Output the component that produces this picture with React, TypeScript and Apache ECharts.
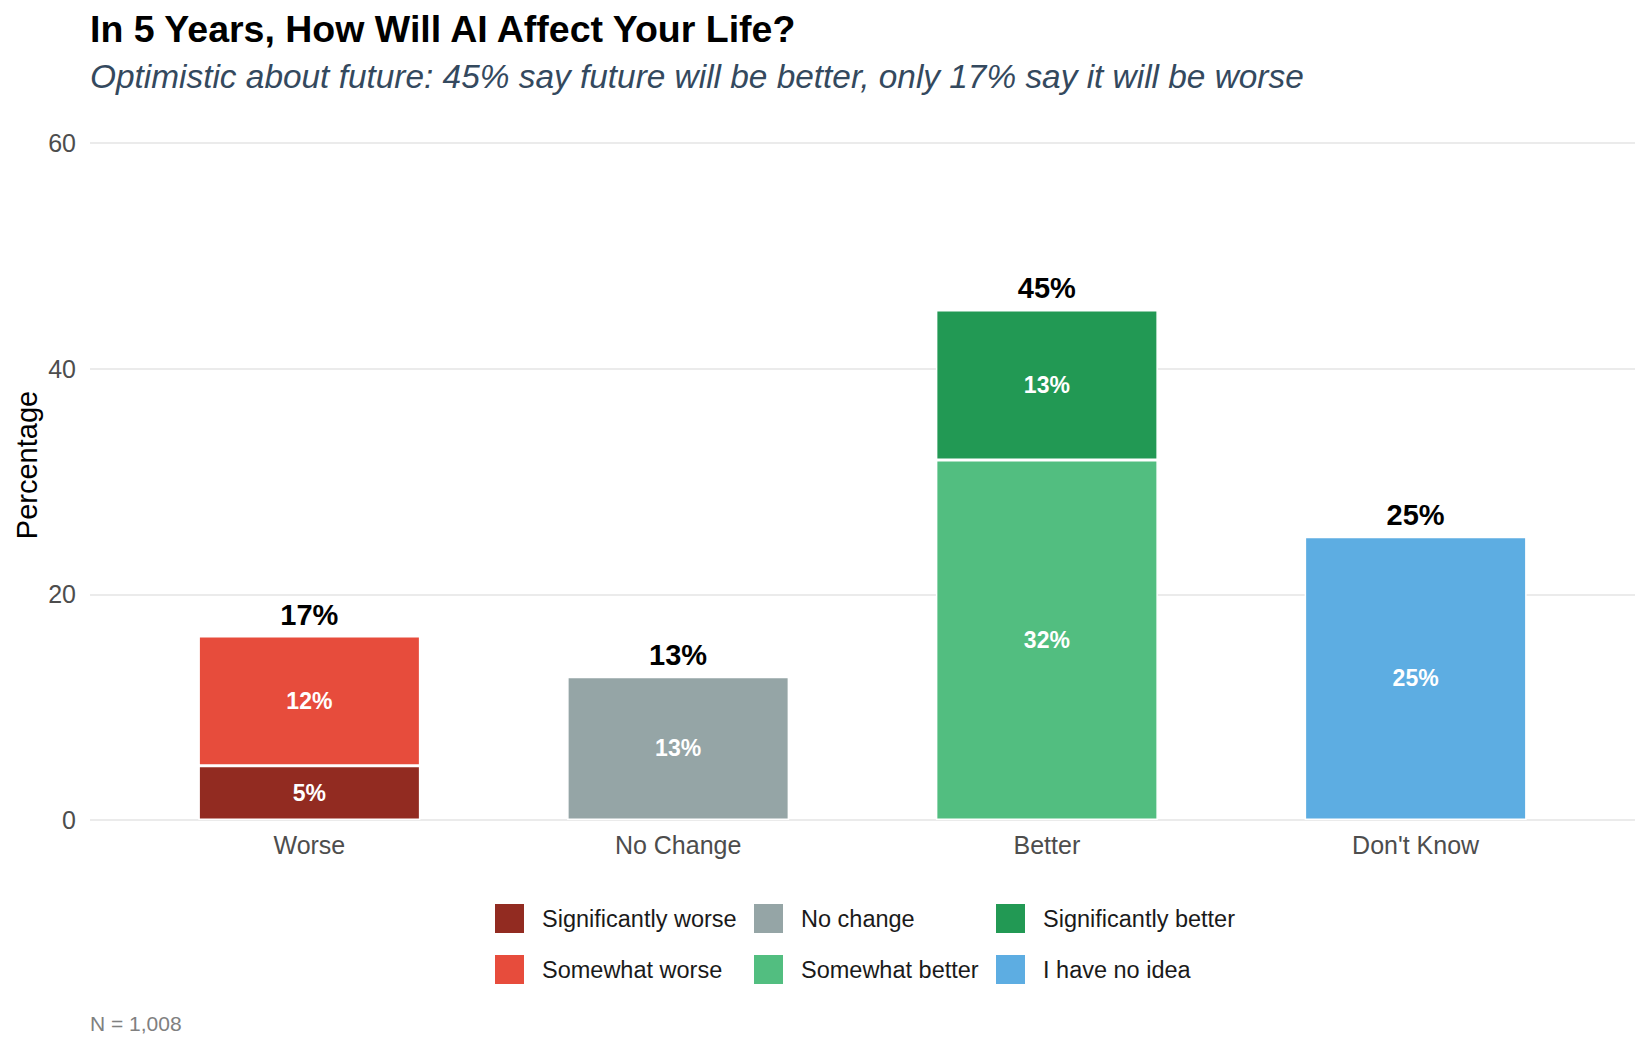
import React, { useEffect, useRef } from "react";
import * as echarts from "echarts";

// ---- Data ----
const categories = ["Worse", "No Change", "Better", "Don't Know"];

const significantlyWorse = [4.8, null, null, null];
const somewhatWorse = [11.5, null, null, null];
const noChange = [null, 12.7, null, null];
const somewhatBetter = [null, null, 31.9, null];
const significantlyBetter = [null, null, 13.3, null];
const noIdea = [null, null, null, 25.1];

const seriesNames = [
  "Significantly worse",
  "Somewhat worse",
  "No change",
  "Somewhat better",
  "Significantly better",
  "I have no idea",
];
const seriesValues = [
  significantlyWorse,
  somewhatWorse,
  noChange,
  somewhatBetter,
  significantlyBetter,
  noIdea,
];
const seriesColors = ["#922B21", "#E74C3C", "#95A5A6", "#52BE80", "#229954", "#5DADE2"];

const yMin = 0;
const yMax = 60;
const yInterval = 20;

const titleText = "In 5 Years, How Will AI Affect Your Life?";
const subtitleText =
  "Optimistic about future: 45% say future will be better, only 17% say it will be worse";
const captionText = "N = 1,008";
const yAxisTitle = "Percentage";

const legendColumns = [
  ["Significantly worse", "Somewhat worse"],
  ["No change", "Somewhat better"],
  ["Significantly better", "I have no idea"],
];

export default function App() {
  const ref = useRef<HTMLDivElement>(null);

  useEffect(() => {
    document.body.style.margin = "0";
    if (!ref.current) return;
    const chart = echarts.init(ref.current, null, { renderer: "svg" });

    // total label = sum of rounded segment labels per category
    const totals = categories.map((_, i) =>
      seriesValues.reduce((s, arr) => s + (arr[i] == null ? 0 : Math.round(arr[i] as number)), 0)
    );

    const font = "Liberation Sans, Arial, Helvetica, sans-serif";

    const barSeries: any[] = seriesNames.map((name, k) => ({
      name,
      type: "bar",
      stack: "total",
      xAxisIndex: 1,
      yAxisIndex: 1,
      barWidth: 222,
      data: seriesValues[k],
      itemStyle: { color: seriesColors[k], borderColor: "#ffffff", borderWidth: 1.5 },
      label: {
        show: true,
        position: "inside",
        color: "#ffffff",
        fontWeight: "bold",
        fontSize: 23,
        fontFamily: font,
        formatter: (p: any) => `${Math.round(p.value)}%`,
      },
    }));

    barSeries.push({
      name: "Total",
      type: "bar",
      stack: "total",
      xAxisIndex: 1,
      yAxisIndex: 1,
      barWidth: 222,
      data: categories.map(() => 0),
      itemStyle: { color: "rgba(0,0,0,0)", borderWidth: 0 },
      label: {
        show: true,
        position: "top",
        distance: 7,
        color: "#000000",
        fontWeight: "bold",
        fontSize: 29,
        fontFamily: font,
        formatter: (p: any) => `${totals[p.dataIndex]}%`,
      },
      silent: true,
    });

    const legendLefts = [493, 752, 994];
    const legends = legendColumns.map((col, i) => ({
      data: col,
      orient: "vertical",
      left: legendLefts[i],
      top: 902,
      padding: 0,
      itemWidth: 31,
      itemHeight: 31,
      itemGap: 18,
      icon: "rect",
      selectedMode: false,
      textStyle: {
        fontSize: 23.5,
        color: "#1a1a1a",
        fontFamily: font,
        padding: [0, 0, 0, 12],
      },
    }));

    chart.setOption({
      animation: false,
      textStyle: { fontFamily: font },
      title: [
        {
          text: titleText,
          left: 90,
          top: 10,
          padding: 0,
          textStyle: { fontSize: 37.5, fontWeight: "bold", color: "#000000", fontFamily: font },
        },
        {
          text: subtitleText,
          left: 90,
          top: 60,
          padding: 0,
          textStyle: {
            fontSize: 33.4,
            fontWeight: "normal",
            fontStyle: "italic",
            color: "#34495E",
            fontFamily: font,
          },
        },
        {
          text: captionText,
          left: 90,
          top: 1013,
          padding: 0,
          textStyle: { fontSize: 21, fontWeight: "normal", color: "#808080", fontFamily: font },
        },
      ],
      graphic: [
        {
          type: "text",
          x: 27,
          y: 465,
          rotation: Math.PI / 2,
          style: {
            text: yAxisTitle,
            fontSize: 29,
            fontFamily: font,
            fill: "#000000",
            align: "center",
            verticalAlign: "middle",
          },
        },
      ],
      legend: legends,
      grid: [
        { left: 90, right: 15, top: 143, bottom: 230 },
        { left: 125, right: 50, top: 143, bottom: 230 },
      ],
      xAxis: [
        { gridIndex: 0, type: "value", show: false, min: 0, max: 1 },
        {
          gridIndex: 1,
          type: "category",
          data: categories,
          axisLine: { show: false },
          axisTick: { show: false },
          splitLine: { show: false },
          axisLabel: { fontSize: 25, color: "#4D4D4D", margin: 12, fontFamily: font },
        },
      ],
      yAxis: [
        {
          gridIndex: 0,
          type: "value",
          min: yMin,
          max: yMax,
          interval: yInterval,
          axisLine: { show: false },
          axisTick: { show: false },
          splitLine: { show: true, lineStyle: { color: "#EBEBEB", width: 2 } },
          axisLabel: { fontSize: 25, color: "#4D4D4D", margin: 14, fontFamily: font },
        },
        { gridIndex: 1, type: "value", min: yMin, max: yMax, interval: yInterval, show: false },
      ],
      series: barSeries,
    });

    return () => chart.dispose();
  }, []);

  return <div ref={ref} style={{ width: 1650, height: 1050, background: "#ffffff" }} />;
}
